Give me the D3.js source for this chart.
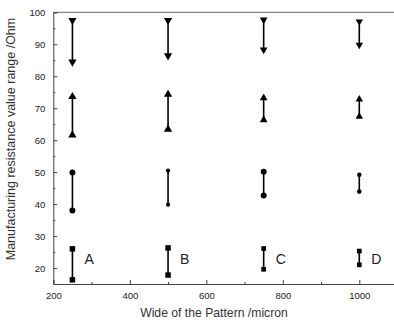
<!DOCTYPE html>
<html><head><meta charset="utf-8">
<script src="https://cdn.jsdelivr.net/npm/d3@7"></script>
<style>body{margin:0;background:#fff}svg{display:block}text{font-family:Arial,"Liberation Sans",sans-serif}</style>
</head><body><svg id="c" width="394" height="324"></svg>
<script>
const widths = [250, 500, 750, 1000];
const labels = ["A", "B", "C", "D"];
const squareHigh = [26.0, 26.3, 26.1, 25.3];
const squareLow = [16.3, 17.8, 19.6, 21.0];
const circleHigh = [49.9, 50.5, 50.1, 49.2];
const circleLow = [38.0, 39.8, 42.7, 43.9];
const upHigh = [73.6, 74.3, 73.2, 72.8];
const upLow = [61.6, 63.4, 66.3, 67.4];
const downHigh = [97.5, 97.5, 97.7, 97.1];
const downLow = [84.5, 86.4, 88.3, 89.8];
const xTicks = [200, 400, 600, 800, 1000];
const yTicks = [20, 30, 40, 50, 60, 70, 80, 90, 100];

const svg = d3.select("#c");
const L = 53.3, T = 12.3, B = 284;
const x = d3.scaleLinear().domain([200, 1100]).range([L, L + 900 * 0.3825]);
const y = d3.scaleLinear().domain([15, 100]).range([B, T]);
const axisColor = "#444";

svg.append("line").attr("x1", L).attr("x2", 394).attr("y1", T).attr("y2", T).attr("stroke", "#666").attr("stroke-width", 1);

const xAxis = d3.axisBottom(x).tickValues(xTicks).tickSize(-4).tickPadding(8).tickFormat(d3.format("d"));
const gx = svg.append("g").attr("transform", `translate(0,${B})`).call(xAxis);
gx.select(".domain").attr("stroke", axisColor);
gx.selectAll(".tick line").attr("stroke", axisColor);
gx.selectAll(".tick text").attr("font-size", 9.5).attr("fill", "#222");
const xMinor = d3.axisBottom(x).tickValues([300, 500, 700, 900]).tickSize(-2).tickFormat("");
const gxm = svg.append("g").attr("transform", `translate(0,${B})`).call(xMinor);
gxm.select(".domain").remove();
gxm.selectAll(".tick line").attr("stroke", axisColor);

const yAxis = d3.axisLeft(y).tickValues(yTicks).tickSize(-4).tickPadding(8);
const gy = svg.append("g").attr("transform", `translate(${L},0)`).call(yAxis);
gy.select(".domain").attr("stroke", axisColor);
gy.selectAll(".tick line").attr("stroke", axisColor);
gy.selectAll(".tick text").attr("font-size", 9.5).attr("fill", "#222");
const yMinor = d3.axisLeft(y).tickValues([25, 35, 45, 55, 65, 75, 85, 95]).tickSize(-2).tickFormat("");
const gym = svg.append("g").attr("transform", `translate(${L},0)`).call(yMinor);
gym.select(".domain").remove();
gym.selectAll(".tick line").attr("stroke", axisColor);

svg.append("text").attr("x", 214).attr("y", 317).attr("text-anchor", "middle").attr("font-size", 12.2).attr("fill", "#333").text("Wide of the Pattern /micron");
svg.append("text").attr("transform", "translate(15,139) rotate(-90)").attr("text-anchor", "middle").attr("font-size", 12.5).attr("fill", "#333").text("Manufacturing resistance value range /Ohm");

const series = [
  {hi: squareHigh, lo: squareLow, sym: d3.symbolSquare, rot: 0, size: [30, 30, 22, 22]},
  {hi: circleHigh, lo: circleLow, sym: d3.symbolCircle, rot: 0, size: [28, 14, 28, 16]},
  {hi: upHigh, lo: upLow, sym: d3.symbolTriangle, rot: 0, size: [30, 30, 26, 24]},
  {hi: downHigh, lo: downLow, sym: d3.symbolTriangle, rot: 180, size: [30, 30, 26, 24]}
];
series.forEach(s => {
  widths.forEach((w, i) => {
    svg.append("line").attr("x1", x(w)).attr("x2", x(w)).attr("y1", y(s.hi[i])).attr("y2", y(s.lo[i]))
      .attr("stroke", "#000").attr("stroke-width", 1.6);
    [s.hi[i], s.lo[i]].forEach(v => {
      svg.append("path").attr("d", d3.symbol().type(s.sym).size(s.size[i])())
        .attr("transform", `translate(${x(w)},${y(v)}) rotate(${s.rot})`).attr("fill", "#000");
    });
  });
});

widths.forEach((w, i) => {
  svg.append("text").attr("x", x(w) + 12).attr("y", 264)
    .attr("font-size", 14).attr("fill", "#222").text(labels[i]);
});
</script></body></html>
